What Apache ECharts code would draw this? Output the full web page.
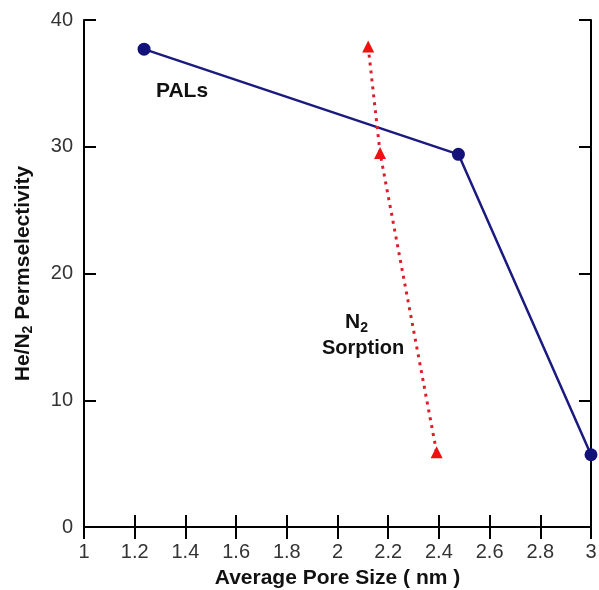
<!DOCTYPE html>
<html><head><meta charset="utf-8">
<script src="https://cdn.jsdelivr.net/npm/echarts@6/dist/echarts.min.js"></script>
<style>html,body{margin:0;padding:0;background:#fff}#c{width:599px;height:590px}</style>
</head><body><div id="c"></div>
<script>
const palsX = [1.237, 2.477, 3.0];
const palsY = [37.7, 29.4, 5.7];
const n2X = [2.121, 2.168, 2.391];
const n2Y = [37.9, 29.5, 5.9];
const xTicks = [1, 1.2, 1.4, 1.6, 1.8, 2, 2.2, 2.4, 2.6, 2.8, 3];
const yTicks = [0, 10, 20, 30, 40];

const chart = echarts.init(document.getElementById('c'));
const axisLine = {show: true, lineStyle: {color: '#000', width: 2}};
const axisTick = {show: true, inside: true, length: 12, lineStyle: {color: '#000', width: 2}};
const font = 'Arial, "Liberation Sans", sans-serif';
chart.setOption({
  animation: false,
  grid: {left: 84, right: 8, top: 20, bottom: 63, show: false, containLabel: false, outerBoundsMode: 'none'},
  xAxis: [{
    type: 'value', min: 1, max: 3, interval: 0.2, position: 'bottom',
    axisLine, axisTick, splitLine: {show: false},
    axisLabel: {color: '#333', fontSize: 20, fontFamily: font, margin: 15,
      formatter: v => { const r = Math.round(v*10)/10; return xTicks.includes(r) ? String(r) : ''; }},
    name: 'Average Pore Size ( nm )', nameLocation: 'middle', nameGap: 41,
    nameTextStyle: {color: '#111', fontSize: 21, fontWeight: 'bold', fontFamily: font}
  }, {
    type: 'value', min: 1, max: 3, interval: 0.2, position: 'top',
    axisLine, axisTick, axisLabel: {show: false}, splitLine: {show: false}
  }],
  yAxis: [{
    type: 'value', min: 0, max: 40, interval: 10, position: 'left',
    axisLine, axisTick, splitLine: {show: false},
    axisLabel: {color: '#333', fontSize: 20, fontFamily: font, margin: 11,
      formatter: v => yTicks.includes(v) ? String(v) : ''},
    name: '{a|He/N}{s|2}{a| Permselectivity}', nameLocation: 'middle', nameGap: 49,
    nameTextStyle: {rich: {
      a: {color: '#111', fontSize: 21, fontWeight: 'bold', fontFamily: font},
      s: {color: '#111', fontSize: 14, fontWeight: 'bold', fontFamily: font, verticalAlign: 'bottom', padding: [10,0,0,0]}
    }}
  }, {
    type: 'value', min: 0, max: 40, interval: 10, position: 'right',
    axisLine, axisTick, axisLabel: {show: false}, splitLine: {show: false}
  }],
  series: [{
    type: 'line', name: 'PALs',
    data: palsX.map((x, i) => [x, palsY[i]]),
    symbol: 'circle', symbolSize: 13,
    lineStyle: {color: '#1a1a80', width: 2.5},
    itemStyle: {color: '#12127a'}
  }, {
    type: 'line', name: 'N2 Sorption',
    data: n2X.map((x, i) => [x, n2Y[i]]),
    symbol: 'triangle', symbolSize: 12,
    lineStyle: {color: '#d9202a', width: 3, type: [3, 5]},
    itemStyle: {color: '#ee1111'}
  }],
  graphic: [
    {type: 'text', left: 156, top: 81, style: {text: 'PALs', fill: '#111', font: 'bold 21px ' + font}},
    {type: 'text', left: 345, top: 312, style: {
      text: '{a|N}{s|2}', rich: {
        a: {fill: '#111', font: 'bold 21px ' + font},
        s: {fill: '#111', font: 'bold 14px ' + font, verticalAlign: 'bottom', padding: [12,0,0,0]}
      }}},
    {type: 'text', left: 322, top: 338, style: {text: 'Sorption', fill: '#111', font: 'bold 20px ' + font}}
  ]
});
</script></body></html>
